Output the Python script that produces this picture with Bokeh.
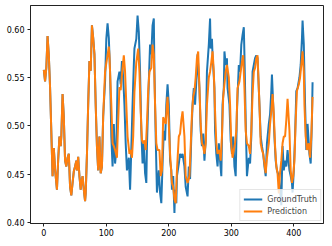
from bokeh.plotting import figure
from bokeh.embed import file_html
from bokeh.resources import INLINE
from bokeh.models import FixedTicker, PrintfTickFormatter, Range1d

# ---- data ----
# early part: ground truth and prediction coincide
early_idx = [0, 2, 4, 6, 8, 10, 13, 14, 16, 18, 21, 23, 25, 27, 28, 30, 32, 34, 36, 38,
             40, 42, 44, 46, 48, 50, 52, 53, 55, 57, 59, 60, 62, 64, 66, 67, 69, 71, 73,
             75, 77, 79, 81, 83, 85, 87, 89, 91, 93, 95]
early_val = [0.558, 0.546, 0.560, 0.593, 0.573, 0.540, 0.471, 0.448, 0.477, 0.455, 0.434,
             0.465, 0.489, 0.479, 0.489, 0.533, 0.509, 0.464, 0.458, 0.467, 0.471, 0.437,
             0.428, 0.441, 0.453, 0.458, 0.464, 0.454, 0.468, 0.448, 0.434, 0.440, 0.448,
             0.434, 0.422, 0.430, 0.470, 0.522, 0.567, 0.557, 0.604, 0.591, 0.574, 0.522,
             0.479, 0.454, 0.489, 0.451, 0.458, 0.510]

gt_idx_tail = [98, 100, 102, 104, 106, 108, 110, 112, 114, 116, 118, 121, 123, 125, 127, 129,
               131, 133, 136, 138, 139, 142, 144, 145, 148, 150, 152, 154, 156, 158, 160, 162,
               164, 165, 168, 170, 172, 174, 176, 177, 179, 181, 184, 186, 188, 190, 192, 194,
               196, 198, 200, 202, 204, 205, 207, 209, 210, 212, 213, 216, 218, 220, 222, 225,
               227, 230, 232, 234, 236, 238, 240, 242, 244, 246, 249, 251, 253, 255, 257, 259,
               261, 264, 266, 267, 269, 270, 273, 274, 276, 278, 280, 282, 284, 286, 288, 289,
               291, 293, 294, 297, 299, 301, 303, 305, 307, 309, 312, 314, 316, 318, 320, 321,
               323, 325, 328, 330, 332, 334, 336, 338, 340, 342, 345, 347, 349, 351, 353, 355,
               357, 360, 362, 364, 365, 367, 369, 371, 373, 376, 378, 380, 382, 384, 386, 388,
               390, 393, 395, 397, 398, 400, 402, 404, 406, 409, 411, 413, 414, 416, 418, 420,
               422, 425, 427, 429, 430]
gt_val_tail = [0.546, 0.590, 0.606, 0.591, 0.556, 0.489, 0.458, 0.502, 0.461, 0.475, 0.546,
               0.556, 0.543, 0.567, 0.550, 0.522, 0.482, 0.454, 0.467, 0.434, 0.454, 0.522,
               0.563, 0.580, 0.590, 0.614, 0.597, 0.556, 0.495, 0.461, 0.482, 0.451, 0.441,
               0.479, 0.546, 0.584, 0.574, 0.604, 0.611, 0.556, 0.489, 0.431, 0.454, 0.431,
               0.420, 0.461, 0.495, 0.485, 0.522, 0.543, 0.522, 0.464, 0.454, 0.434, 0.448,
               0.410, 0.434, 0.420, 0.448, 0.461, 0.471, 0.467, 0.471, 0.458, 0.437, 0.427,
               0.458, 0.445, 0.489, 0.522, 0.539, 0.522, 0.546, 0.574, 0.539, 0.495, 0.479,
               0.492, 0.464, 0.485, 0.556, 0.584, 0.611, 0.580, 0.590, 0.573, 0.539, 0.495,
               0.471, 0.458, 0.482, 0.464, 0.448, 0.522, 0.539, 0.577, 0.563, 0.570, 0.539,
               0.522, 0.485, 0.471, 0.489, 0.458, 0.448, 0.515, 0.563, 0.556, 0.584, 0.594,
               0.602, 0.573, 0.506, 0.448, 0.467, 0.461, 0.489, 0.556, 0.563, 0.570, 0.573,
               0.570, 0.522, 0.489, 0.479, 0.471, 0.458, 0.448, 0.482, 0.502, 0.512, 0.536,
               0.553, 0.522, 0.489, 0.464, 0.454, 0.448, 0.434, 0.418, 0.479, 0.454, 0.464,
               0.458, 0.475, 0.454, 0.448, 0.441, 0.431, 0.454, 0.489, 0.536, 0.539, 0.550,
               0.563, 0.590, 0.609, 0.584, 0.522, 0.475, 0.502, 0.471, 0.461, 0.506, 0.545]

pred_idx_tail = [98, 100, 102, 104, 105, 108, 110, 112, 114, 117, 119, 121, 123, 125, 128, 130,
                 132, 134, 137, 139, 141, 143, 145, 148, 151, 153, 155, 157, 159, 161, 163, 165,
                 167, 169, 172, 174, 176, 178, 180, 182, 185, 187, 189, 191, 193, 195, 197, 198,
                 200, 202, 205, 207, 209, 211, 213, 216, 218, 220, 222, 225, 227, 230, 233, 235,
                 237, 239, 241, 243, 245, 247, 249, 251, 253, 255, 257, 259, 261, 264, 266, 268,
                 270, 272, 274, 276, 278, 281, 283, 285, 287, 289, 291, 293, 296, 298, 300, 302,
                 304, 306, 308, 310, 313, 315, 317, 319, 321, 323, 325, 328, 330, 332, 334, 336,
                 338, 340, 342, 345, 347, 349, 351, 353, 355, 357, 360, 362, 364, 366, 368, 370,
                 372, 374, 376, 378, 380, 382, 384, 386, 388, 390, 393, 395, 397, 399, 401, 403,
                 405, 408, 410, 412, 414, 416, 417, 419, 421, 424, 426, 428, 430]
pred_val_tail = [0.556, 0.565, 0.573, 0.582, 0.573, 0.522, 0.482, 0.479, 0.475, 0.467, 0.505,
                 0.540, 0.537, 0.553, 0.573, 0.556, 0.522, 0.489, 0.471, 0.475, 0.467, 0.489,
                 0.535, 0.566, 0.580, 0.556, 0.515, 0.485, 0.482, 0.485, 0.475, 0.502, 0.536,
                 0.556, 0.560, 0.584, 0.574, 0.522, 0.482, 0.475, 0.475, 0.448, 0.454, 0.509,
                 0.506, 0.502, 0.522, 0.530, 0.502, 0.471, 0.441, 0.437, 0.424, 0.420, 0.454,
                 0.489, 0.492, 0.506, 0.515, 0.489, 0.448, 0.441, 0.448, 0.479, 0.512, 0.530,
                 0.536, 0.550, 0.570, 0.577, 0.539, 0.502, 0.482, 0.479, 0.471, 0.482, 0.522,
                 0.550, 0.556, 0.566, 0.577, 0.556, 0.515, 0.482, 0.471, 0.475, 0.464, 0.489,
                 0.530, 0.543, 0.556, 0.563, 0.550, 0.522, 0.480, 0.467, 0.475, 0.482, 0.495,
                 0.539, 0.546, 0.556, 0.566, 0.573, 0.539, 0.495, 0.482, 0.479, 0.471, 0.495,
                 0.533, 0.556, 0.560, 0.570, 0.573, 0.522, 0.482, 0.475, 0.471, 0.461, 0.451,
                 0.467, 0.482, 0.502, 0.515, 0.533, 0.512, 0.479, 0.458, 0.451, 0.430, 0.452,
                 0.464, 0.482, 0.489, 0.489, 0.506, 0.528, 0.495, 0.454, 0.441, 0.448, 0.464,
                 0.506, 0.536, 0.543, 0.550, 0.563, 0.577, 0.556, 0.522, 0.489, 0.475, 0.482,
                 0.467, 0.489, 0.530]

gt_idx = early_idx + gt_idx_tail
gt_val = early_val + gt_val_tail
pred_idx = early_idx + pred_idx_tail
pred_val = early_val + pred_val_tail

x_ticks = [0, 100, 200, 300, 400]
y_ticks = [0.40, 0.45, 0.50, 0.55, 0.60]

# ---- figure ----
p = figure(width=324, height=238, output_backend="svg", toolbar_location=None,
           x_range=Range1d(-21.3, 447.5), y_range=Range1d(0.399, 0.6245),
           min_border_left=30, min_border_right=1, min_border_top=5,
           min_border_bottom=12)
p.background_fill_color = "white"
p.border_fill_color = "white"
p.outline_line_color = "#222222"
p.outline_line_width = 1
p.xgrid.visible = False
p.ygrid.visible = False

for ax in (p.xaxis[0], p.yaxis[0]):
    ax.axis_line_color = "#222222"
    ax.major_tick_line_color = "#222222"
    ax.major_tick_in = 0
    ax.major_tick_out = 3
    ax.minor_tick_line_color = None
    ax.major_label_text_font = "DejaVu Sans"
    ax.major_label_text_font_size = "8px"
    ax.major_label_text_color = "black"

p.xaxis[0].major_label_standoff = 2
p.yaxis[0].major_label_standoff = 3
p.xaxis[0].ticker = FixedTicker(ticks=x_ticks)
p.yaxis[0].ticker = FixedTicker(ticks=y_ticks)
p.yaxis[0].formatter = PrintfTickFormatter(format="%.2f")

p.line(gt_idx, gt_val, line_color="#1f77b4", line_width=2.0, legend_label="GroundTruth")
p.line(pred_idx, pred_val, line_color="#ff7f0e", line_width=2.0, legend_label="Prediction")

lg = p.legend[0]
lg.location = "bottom_right"
lg.margin = 2
lg.padding = 3
lg.spacing = 0
lg.glyph_width = 19
lg.glyph_height = 12
lg.label_standoff = 5
lg.label_text_font = "DejaVu Sans"
lg.label_text_font_size = "8px"
lg.label_height = 12
lg.border_line_color = "#cccccc"
lg.border_line_width = 1
lg.background_fill_alpha = 0.8

open("out.html", "w").write(file_html(p, INLINE))
